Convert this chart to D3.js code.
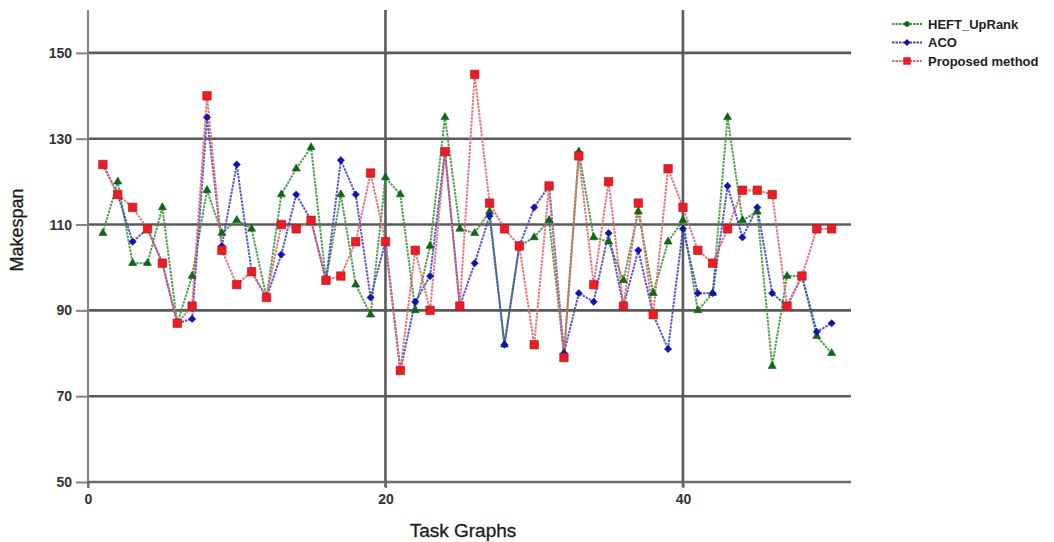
<!DOCTYPE html>
<html><head><meta charset="utf-8">
<script src="https://cdn.jsdelivr.net/npm/d3@7"></script>
<style>
html,body{margin:0;padding:0;background:#fff;}
svg{display:block;font-family:"Liberation Sans",Arial,sans-serif;}
</style></head>
<body>
<svg id="chart" width="1054" height="542"></svg>
<script>
const taskGraphs = d3.range(1, 51);
const heftUpRank = [108,120,101,101,114,87,98,118,108,111,109,93,117,123,128,97,117,96,89,121,117,90,105,135,109,108,113,82,105,107,111,80,127,107,106,97,113,94,106,111,90,94,135,111,113,77,98,98,84,80];
const aco = [124,117,106,109,101,87,88,135,105,124,99,93,103,117,111,97,125,117,93,106,76,92,98,127,91,101,112,82,105,114,119,80,94,92,108,91,104,89,81,109,94,94,119,107,114,94,91,98,85,87];
const proposed = [124,117,114,109,101,87,91,140,104,96,99,93,110,109,111,97,98,106,122,106,76,104,90,127,91,145,115,109,105,82,119,79,126,96,120,91,115,89,123,114,104,101,109,118,118,117,91,98,109,109];
const seriesNames = ["HEFT_UpRank","ACO","Proposed method"];
const xTicks = [0,20,40];
const yTicks = [50,70,90,110,130,150];

const svg = d3.select("#chart");
const x = d3.scaleLinear().domain([0, 51.3]).range([88, 851]);
const y = d3.scaleLinear().domain([50, 160]).range([482, 10]);

// horizontal gridlines
svg.append("g").selectAll("line").data(yTicks.filter(d=>d>50)).join("line")
  .attr("x1", x(0)).attr("x2", x(51.3))
  .attr("y1", d=>y(d)).attr("y2", d=>y(d))
  .attr("stroke", "#5a5a5a").attr("stroke-width", 2.6);
// vertical gridlines
svg.append("g").selectAll("line").data(xTicks.filter(d=>d>0)).join("line")
  .attr("x1", d=>x(d)).attr("x2", d=>x(d))
  .attr("y1", y(160)).attr("y2", y(50)+5)
  .attr("stroke", "#5a5a5a").attr("stroke-width", 2.6);

// y axis
const yAxis = d3.axisLeft(y).tickValues(yTicks).tickSize(12).tickPadding(4);
const gy = svg.append("g").attr("transform", `translate(${x(0)},0)`).call(yAxis);
gy.select(".domain").attr("stroke", "#808080").attr("stroke-width", 2).attr("d", `M0,${y(160)}V${y(50)+6}`);
gy.selectAll(".tick line").attr("stroke", "#808080").attr("stroke-width", 2);
gy.selectAll(".tick text").attr("font-size", 14).attr("font-weight", "bold").attr("fill", "#333")
  .attr("font-family", "'Liberation Sans', Arial, sans-serif");

// x axis
const xAxis = d3.axisBottom(x).tickValues(xTicks).tickSize(6).tickPadding(6);
const gx = svg.append("g").attr("transform", `translate(0,${y(50)})`).call(xAxis);
gx.select(".domain").attr("stroke", "#6a6a6a").attr("stroke-width", 2.6).attr("d", `M${x(0)},0H${x(51.3)}`);
gx.selectAll(".tick line").attr("stroke", "#6a6a6a").attr("stroke-width", 2);
gx.selectAll(".tick text").attr("font-size", 14).attr("font-weight", "bold").attr("fill", "#333")
  .attr("font-family", "'Liberation Sans', Arial, sans-serif");

// axis titles
svg.append("text").attr("x", 463).attr("y", 537).attr("text-anchor", "middle")
  .attr("font-size", 19).attr("fill", "#1a1a1a").attr("stroke", "#1a1a1a").attr("stroke-width", 0.3).text("Task Graphs");
svg.append("text").attr("transform", "translate(23,230) rotate(-90)").attr("text-anchor", "middle")
  .attr("font-size", 18).attr("fill", "#1a1a1a").attr("stroke", "#1a1a1a").attr("stroke-width", 0.3).text("Makespan");

const diamond = {draw(ctx, size){ const r = Math.sqrt(size/2); ctx.moveTo(0,-r); ctx.lineTo(r,0); ctx.lineTo(0,r); ctx.lineTo(-r,0); ctx.closePath(); }};

const styles = [
  {data: heftUpRank, line: "#3c963c", fill: "#0d6a12", stroke: "#0d5a10", shape: d3.symbolTriangle, size: 28},
  {data: aco, line: "#4646c0", fill: "#1212b8", stroke: "#0c0c90", shape: diamond, size: 26},
  {data: proposed, line: "#de6870", fill: "#ea1c24", stroke: "#b81018", shape: d3.symbolSquare, size: 72}
];

const line = d3.line().x((d,i)=>x(taskGraphs[i])).y(d=>y(d));
styles.forEach(s => {
  svg.append("path").datum(s.data).attr("d", line).attr("fill", "none")
    .attr("stroke", s.line).attr("stroke-width", 2).attr("stroke-dasharray", "2.5,1").attr("opacity", 0.9);
});
styles.forEach(s => {
  svg.append("g").selectAll("path").data(s.data).join("path")
    .attr("transform", (d,i)=>`translate(${x(taskGraphs[i])},${y(d)})`)
    .attr("d", d3.symbol().type(s.shape).size(s.size))
    .attr("fill", s.fill).attr("stroke", s.stroke).attr("stroke-width", 0.6);
});

// legend
const lg = svg.append("g");
styles.forEach((s, i) => {
  const yy = 24 + i*18.5;
  lg.append("line").attr("x1", 892).attr("x2", 922).attr("y1", yy).attr("y2", yy)
    .attr("stroke", s.line).attr("stroke-width", 2).attr("stroke-dasharray", "2.5,1");
  lg.append("path").attr("transform", `translate(907,${yy})`)
    .attr("d", d3.symbol().type(i===0?d3.symbolCircle:(i===1?diamond:d3.symbolSquare)).size(i===2?56:24))
    .attr("fill", s.fill);
  lg.append("text").attr("x", 928).attr("y", yy + 4.5).attr("font-size", 13).attr("font-weight", "bold")
    .attr("fill", "#222").text(seriesNames[i]);
});
</script>
</body></html>
